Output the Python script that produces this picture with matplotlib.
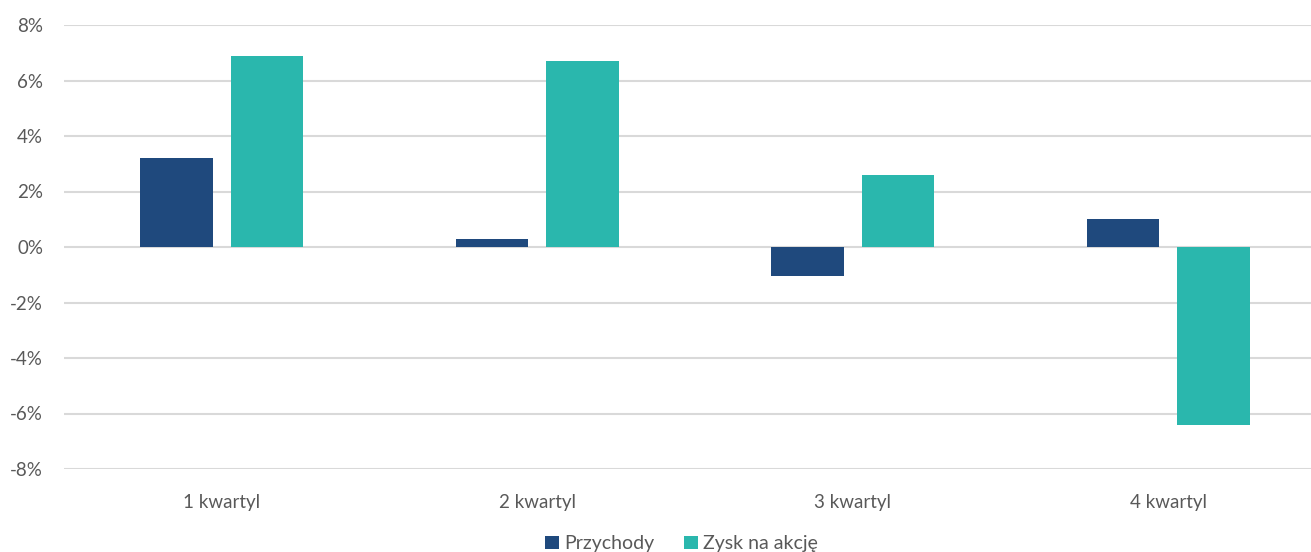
import matplotlib.pyplot as plt
import numpy as np

plt.rcParams['font.family'] = ['Lato', 'DejaVu Sans']

kategorie = ["1 kwartyl", "2 kwartyl", "3 kwartyl", "4 kwartyl"]
przychody = [3.2, 0.3, -1.05, 1.0]
zysk_na_akcje = [6.9, 6.7, 2.6, -6.4]
y_ticks = [-8, -6, -4, -2, 0, 2, 4, 6, 8]

kolor_przychody = "#1F497D"
kolor_zysk = "#2AB7AD"
kolor_tekstu = "#595959"

fig = plt.figure(figsize=(13.11, 5.52), dpi=100)
# obszar wykresu wychodzi troche poza prawa krawedz (jak w oryginale)
ax = fig.add_axes([64 / 1311, 1 - 469 / 552, (1326 - 64) / 1311, (469 - 25) / 552])

x = np.arange(len(kategorie))
szer = 0.23
odst = 0.143
ax.bar(x - odst, przychody, szer, color=kolor_przychody, label="Przychody", zorder=3)
ax.bar(x + odst, zysk_na_akcje, szer, color=kolor_zysk, label="Zysk na akcję", zorder=3)

ax.set_xlim(-0.5, len(kategorie) - 0.5)
ax.set_ylim(-8, 8)
ax.set_yticks(y_ticks)
ax.set_yticklabels([f"{t}%" for t in y_ticks])
ax.set_xticks(x)
ax.set_xticklabels(kategorie)

ax.grid(axis="y", color="#D9D9D9", linewidth=1.5, zorder=0)
for s in ax.spines.values():
    s.set_visible(False)
ax.tick_params(axis="both", length=0, labelsize=13.5, colors=kolor_tekstu)
ax.tick_params(axis="x", pad=18)
ax.tick_params(axis="y", pad=15)

leg = fig.legend(loc="center", bbox_to_anchor=(0.52, 0.015), ncol=2, frameon=False,
                 fontsize=14, handlelength=0.7, handleheight=0.7, columnspacing=1.5,
                 handletextpad=0.3)
for t in leg.get_texts():
    t.set_color(kolor_tekstu)

fig.savefig("out.png", dpi=100)
